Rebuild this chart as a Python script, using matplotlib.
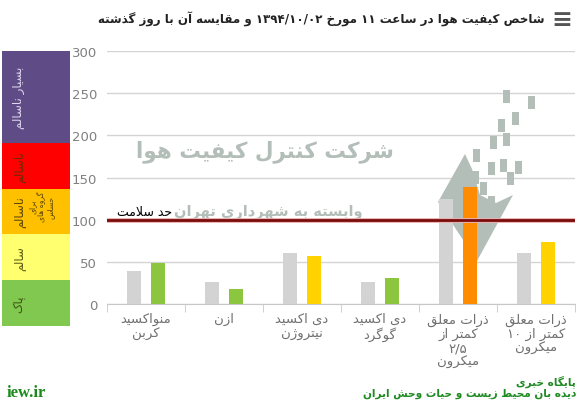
import re
import matplotlib
matplotlib.use("Agg")
import matplotlib.pyplot as plt
from matplotlib.patches import Rectangle, Polygon
import numpy as np

# ---- data (AQI per pollutant, yesterday vs today) ----
categories = [
    "منواکسید\nکربن",
    "ازن",
    "دی اکسید\nنیتروژن",
    "دی اکسید\nگوگرد",
    "ذرات معلق\nکمتر از\n۲/۵\nمیکرون",
    "ذرات معلق\nکمتر از ۱۰\nمیکرون",
]
yesterday = [39, 26, 61, 26, 124, 61]
today = [49, 18, 57, 31, 139, 74]
today_colors = ["#8cc63e", "#8cc63e", "#ffd200", "#8cc63e", "#ff8c00", "#ffd200"]
health_limit = 100
y_ticks = [0, 50, 100, 150, 200, 250, 300]

# AQI colour band on the left (bottom -> top)
band_labels = ["پاک", "سالم", "ناسالم", "ناسالم", "بسیار ناسالم"]
band_colors = ["#80c850", "#ffff70", "#ffc000", "#ff0000", "#5f4b85"]
band_text_colors = ["#3d5510", "#5a5a10", "#5a4500", "#6a2a00", "#e0d8ee"]
band_units = [1, 1, 1, 1, 2]

title = "شاخص کیفیت هوا در ساعت ۱۱ مورخ ۱۳۹۴/۱۰/۰۲ و مقایسه آن با روز گذشته"


# ---- tiny persian shaper (matplotlib has no bidi / shaping) ----
_F = {
    "ا": "FE8D FE8E", "آ": "FE81 FE82", "ب": "FE8F FE90 FE91 FE92",
    "پ": "FB56 FB57 FB58 FB59", "ت": "FE95 FE96 FE97 FE98",
    "ث": "FE99 FE9A FE9B FE9C", "ج": "FE9D FE9E FE9F FEA0",
    "چ": "FB7A FB7B FB7C FB7D", "ح": "FEA1 FEA2 FEA3 FEA4",
    "خ": "FEA5 FEA6 FEA7 FEA8", "د": "FEA9 FEAA", "ذ": "FEAB FEAC",
    "ر": "FEAD FEAE", "ز": "FEAF FEB0", "ژ": "FB8A FB8B",
    "س": "FEB1 FEB2 FEB3 FEB4", "ش": "FEB5 FEB6 FEB7 FEB8",
    "ص": "FEB9 FEBA FEBB FEBC", "ض": "FEBD FEBE FEBF FEC0",
    "ط": "FEC1 FEC2 FEC3 FEC4", "ظ": "FEC5 FEC6 FEC7 FEC8",
    "ع": "FEC9 FECA FECB FECC", "غ": "FECD FECE FECF FED0",
    "ف": "FED1 FED2 FED3 FED4", "ق": "FED5 FED6 FED7 FED8",
    "ک": "FB8E FB8F FB90 FB91", "گ": "FB92 FB93 FB94 FB95",
    "ل": "FEDD FEDE FEDF FEE0", "م": "FEE1 FEE2 FEE3 FEE4",
    "ن": "FEE5 FEE6 FEE7 FEE8", "و": "FEED FEEE",
    "ه": "FEE9 FEEA FEEB FEEC", "ی": "FBFC FBFD FBFE FBFF",
    "\u0001": "FEFB FEFC", "\u0002": "FEF5 FEF6",
}
FORMS = {k: [chr(int(h, 16)) for h in v.split()] for k, v in _F.items()}


def _shape_line(s):
    s = s.replace("لا", "\u0001").replace("لآ", "\u0002")
    out = []
    for i, c in enumerate(s):
        if c not in FORMS:
            out.append(c)
            continue
        f = FORMS[c]
        prev = s[i - 1] if i > 0 else ""
        nxt = s[i + 1] if i + 1 < len(s) else ""
        jp = prev in FORMS and len(FORMS[prev]) == 4
        jn = len(f) == 4 and nxt in FORMS
        if jp and jn:
            out.append(f[3])
        elif jp:
            out.append(f[1])
        elif jn:
            out.append(f[2])
        else:
            out.append(f[0])
    tokens = re.findall(r"[۰-۹0-9/]+|.", "".join(out))
    return "".join(tokens[::-1])


def fa(s):
    return "\n".join(_shape_line(line) for line in s.split("\n"))


plt.rcParams["font.family"] = ["DejaVu Sans"]

W, H = 583, 406
fig = plt.figure(figsize=(W / 100, H / 100), dpi=100)

# main axes: x 107..575 px, y(0)=305 px, y(300)=52 px
AX_L, AX_R, AX_B, AX_T = 107, 575, 305, 52
ax = fig.add_axes([AX_L / W, (H - AX_B) / H, (AX_R - AX_L) / W, (AX_B - AX_T) / H])


def px(xp, yp):
    # pixel position -> axes fraction (used for the watermark logo only)
    return ((xp - AX_L) / (AX_R - AX_L), (AX_B - yp) / (AX_B - AX_T))


x = np.arange(len(categories))
bw = 0.18
ax.bar(x - 0.155, yesterday, width=bw, color="#d3d3d3", zorder=3)
ax.bar(x + 0.155, today, width=bw, color=today_colors, zorder=3)

ax.set_ylim(0, 300)
ax.set_xlim(-0.5, len(categories) - 0.5)
ax.set_yticks(y_ticks)
ax.yaxis.grid(True, color="#d4d4d4", lw=1)
ax.set_axisbelow(True)
ax.tick_params(axis="y", length=0, pad=7, labelsize=9.5, labelcolor="#808080")
ax.set_xticks(x)
ax.set_xticklabels([fa(c) for c in categories], fontsize=9.5, color="#707070",
                   linespacing=1.12, va="top")
ax.set_xticks(np.arange(-0.5, len(categories)), minor=True)
ax.tick_params(axis="x", which="major", length=0, pad=6)
ax.tick_params(axis="x", which="minor", length=6, color="#c8c8c8")
for sp in ["top", "right", "left"]:
    ax.spines[sp].set_visible(False)
ax.spines["bottom"].set_color("#c8c8c8")

# health limit line
ax.axhline(health_limit, color="#e8b0b0", lw=3.5, zorder=4)
ax.axhline(health_limit, color="#7a0c0c", lw=2, zorder=5)
ax.text(-0.37, health_limit + 2, fa("حد سلامت"), fontsize=9, color="black",
        ha="left", va="bottom", zorder=6)

# watermark (company name + pixel-arrow logo)
wm = "#b4beb9"
ax.text(*px(265, 152), fa("شرکت کنترل کیفیت هوا"), transform=ax.transAxes,
        fontsize=15.5, fontweight="bold", color=wm, ha="center", va="center", zorder=2)
ax.text(*px(268, 212), fa("وابسته به شهرداری تهران"), transform=ax.transAxes,
        fontsize=10.5, fontweight="bold", color=wm, ha="center", va="center", zorder=2)
logo_pts = [(465, 155), (438, 203), (477, 262), (513, 196), (496, 204),
            (480, 196), (472, 170)]
ax.add_patch(Polygon([px(*p) for p in logo_pts], closed=True, transform=ax.transAxes,
                     color=wm, zorder=1, lw=0))
logo_squares = [(503, 91), (528, 97), (512, 113), (498, 120), (503, 134), (490, 137),
                (473, 150), (488, 163), (500, 160), (515, 162), (472, 172),
                (507, 173), (480, 183), (488, 197)]
for (sx, sy) in logo_squares:
    x0, y0 = px(sx, sy + 13)
    ax.add_patch(Rectangle((x0, y0), 7 / (AX_R - AX_L), 13 / (AX_B - AX_T),
                           transform=ax.transAxes, color=wm, zorder=1, lw=0))

# AQI colour band
bax = fig.add_axes([2 / W, (H - 327) / H, (70 - 2) / W, (327 - 52) / H])
bax.set_xlim(0, 1)
bax.set_ylim(0, sum(band_units))
bax.axis("off")
yb = 0
for lab, col, tc, u in zip(band_labels, band_colors, band_text_colors, band_units):
    bax.add_patch(Rectangle((0, yb), 1, u, color=col, lw=0))
    bax.text(0.24, yb + u / 2, fa(lab), rotation=90, ha="center", va="center",
             fontsize=8.5, color=tc)
    if yb == 2:
        bax.text(0.58, yb + 0.62, fa("برای\nگروه های\nحساس"), rotation=90,
                 ha="center", va="center", fontsize=5.5, color=tc, linespacing=1.0)
    yb += u

# title
fig.text(545 / W, 1 - 19 / H, fa(title), ha="right", va="center", fontsize=8.6,
         fontweight="bold", color="#222222")
fig.text(562 / W, 1 - 20 / H, "≡", ha="center", va="center", fontsize=18,
         fontweight="bold", color="#555555")

# footer
fig.text(576 / W, 1 - 375 / H, fa("پایگاه خبری\nدیده بان محیط زیست و حیات وحش ایران"),
         ha="right", va="top", fontsize=7.6, fontweight="bold", color="#1f8a22",
         linespacing=1.05)
fig.text(7 / W, 1 - 393 / H, "iew.ir", ha="left", va="center", fontsize=12,
         fontweight="bold", color="#1a8a1a", family="Liberation Serif")

fig.savefig("out.png", dpi=100)
